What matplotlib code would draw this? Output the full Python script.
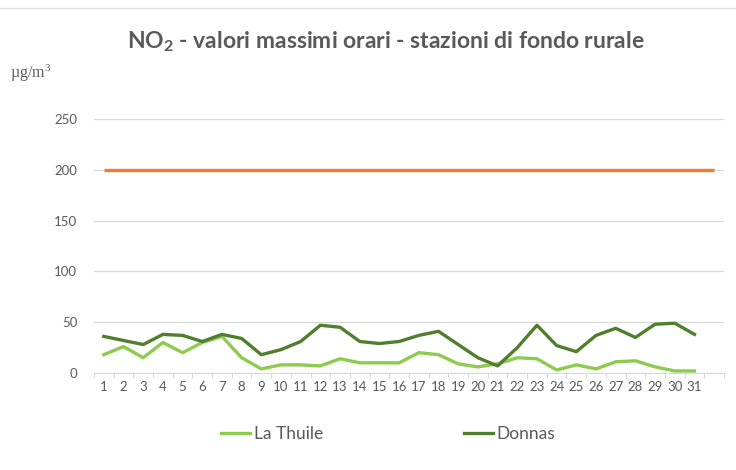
import matplotlib
matplotlib.use("Agg")
import matplotlib.pyplot as plt
from matplotlib.ticker import MultipleLocator, FixedLocator

# giorni del mese
giorni = list(range(1, 32))

# NO2 valori massimi orari (µg/m3)
la_thuile = [18, 26, 15, 30, 20, 30, 36, 15, 4, 8, 8, 7, 14, 10, 10, 10,
             20, 18, 9, 6, 9, 15, 14, 3, 8, 4, 11, 12, 6, 2, 2]
donnas = [36, 32, 28, 38, 37, 31, 38, 34, 18, 23, 31, 47, 45, 31, 29, 31,
          37, 41, 28, 15, 7, 25, 47, 27, 21, 37, 44, 35, 48, 49, 38]

# valore limite orario
limite_giorni = list(range(1, 33))
limite = [200] * 32

titolo = "NO$_2$ - valori massimi orari - stazioni di fondo rurale"

grigio = "#595959"
plt.rcParams['font.family'] = ['Lato', 'DejaVu Sans']
plt.rcParams['mathtext.fontset'] = 'custom'
plt.rcParams['mathtext.rm'] = 'Lato'
plt.rcParams['mathtext.it'] = 'Lato:italic'
plt.rcParams['mathtext.bf'] = 'Lato:bold'
plt.rcParams['mathtext.default'] = 'regular'

fig = plt.figure(figsize=(7.36, 4.70), dpi=100)
ax = fig.add_axes([0.1277, 0.2064, 0.8560, 0.5404])

ax.plot(limite_giorni, limite, color="#ED7D31", lw=2.4, solid_capstyle="butt")
ax.plot(giorni, la_thuile, color="#8CCB4E", lw=2.4, label="La Thuile")
ax.plot(giorni, donnas, color="#4F7F2D", lw=2.4, label="Donnas")

ax.set_xlim(0.5, 32.5)
ax.set_ylim(0, 250)
ax.yaxis.set_major_locator(MultipleLocator(50))
ax.grid(axis="y", color="#D9D9D9", lw=0.9)
ax.set_axisbelow(True)

ax.set_xticks(giorni)
ax.set_xticklabels([str(g) for g in giorni])
ax.xaxis.set_minor_locator(FixedLocator([g + 0.5 for g in range(0, 33)]))
ax.tick_params(axis="x", which="major", length=0, pad=6, labelsize=9.5, labelcolor=grigio)
ax.tick_params(axis="x", which="minor", length=3.5, color="#D0D0D0")
ax.tick_params(axis="y", length=0, pad=12, labelsize=9.5, labelcolor=grigio)

for s in ["top", "right", "left"]:
    ax.spines[s].set_visible(False)
ax.spines["bottom"].set_color("#D9D9D9")

fig.text(386 / 736, 1 - 42 / 470, titolo, ha="center", va="center",
         fontsize=16.5, fontweight="bold", color=grigio)
fig.text(10 / 736, 1 - 73 / 470, "µg/m$^3$", ha="left", va="center",
         fontsize=11.5, color=grigio, family="Liberation Serif",
         math_fontfamily="stix")

leg = fig.legend(loc="center", bbox_to_anchor=(388 / 736, 1 - 434 / 470), ncol=2,
                 frameon=False, fontsize=12.5, handlelength=1.7, handletextpad=0.2,
                 columnspacing=8.1)
for t in leg.get_texts():
    t.set_color(grigio)

# linea sottile in alto come nel riferimento
fig.add_artist(plt.Line2D([0, 1], [1 - 8 / 470] * 2, color="#E0E0E0", lw=1))

fig.savefig("out.png", dpi=100)
